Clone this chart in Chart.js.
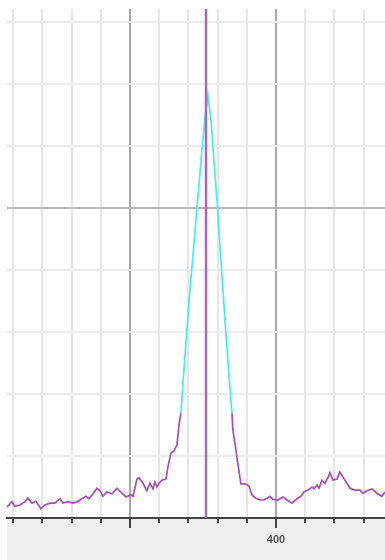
<!DOCTYPE html>
<html>
<head>
<meta charset="utf-8">
<script src="https://cdn.jsdelivr.net/npm/chart.js@4.4.0/dist/chart.umd.min.js"></script>
<style>
  body { margin: 0; background: #fff; }
  #wrap { width: 385px; height: 560px; }
</style>
</head>
<body>
<div id="wrap"><canvas id="myCanvas"></canvas></div>
<script>
// spectrum samples (wavelength, counts)
var wavelengths = [
  215.8, 219.2, 221.2, 224.7, 228.1, 230.1, 232.9, 235.6, 239.0, 241.8,
  245.2, 248.6, 252.1, 254.1, 257.5, 261.0, 263.7, 267.1, 269.9, 271.9,
  274.7, 277.4, 279.5, 281.5, 284.2, 287.7, 291.1, 294.5, 297.3, 300.7,
  302.1, 304.8, 306.2, 308.9, 311.6, 313.7, 315.8, 317.1, 318.5, 319.9,
  321.9, 324.7, 326.0, 328.1, 330.1, 332.2, 333.6, 334.9, 337.0, 339.0,
  341.1, 343.2, 345.2, 347.3, 349.3, 351.4, 353.4, 355.5, 357.5, 359.6,
  361.6, 363.7, 365.8, 367.8, 369.9, 370.5, 372.6, 374.0, 376.0, 378.8,
  381.5, 383.6, 386.3, 389.0, 391.8, 393.8, 395.9, 397.9, 401.4, 404.8,
  407.5, 411.0, 414.4, 417.1, 419.2, 421.9, 424.7, 426.0, 428.1, 429.5,
  431.5, 433.6, 435.6, 437.0, 439.0, 441.8, 443.8, 445.9, 448.6, 450.7,
  454.1, 457.5, 459.6, 462.3, 465.8, 469.2, 472.6, 474.7
];
var counts = [
  18, 26, 19, 21, 26, 32, 24, 27, 15, 21,
  24, 24, 31, 24, 26, 24, 26, 31, 35, 31,
  39, 48, 44, 35, 42, 39, 48, 40, 34, 37,
  35, 63, 65, 56, 44, 56, 47, 58, 50, 56,
  61, 63, 82, 105, 108, 118, 150, 169, 239, 303,
  368, 424, 481, 537, 594, 645, 682, 642, 577, 513,
  440, 368, 295, 231, 169, 142, 110, 86, 55, 55,
  52, 37, 32, 29, 29, 32, 35, 30, 29, 34,
  29, 24, 31, 35, 42, 45, 50, 47, 53, 48,
  61, 56, 65, 73, 61, 63, 74, 66, 56, 48,
  45, 45, 40, 44, 47, 40, 35, 42
];
var markerX = 352.1;
var yMax = 821;
var xMin = 215.8;
var xMax = 474.7;

var purple = '#a64fb8';
var cyan = '#40f0f0';

var points = wavelengths.map(function(w, i) { return { x: w, y: counts[i] }; });

var bgPlugin = {
  id: 'bottomBand',
  beforeDraw: function(chart) {
    var c = chart.ctx, a = chart.chartArea;
    c.save();
    c.fillStyle = '#efefef';
    c.fillRect(a.left, a.bottom, chart.width - a.left, chart.height - a.bottom);
    c.restore();
  },
  afterDraw: function(chart) {
    // longer tick marks on the major lines
    var c = chart.ctx, a = chart.chartArea, xs = chart.scales.x;
    c.save();
    c.strokeStyle = '#444';
    c.lineWidth = 2;
    xs.ticks.forEach(function(t) {
      if (Math.round(t.value) % 100 === 0) {
        var px = Math.round(xs.getPixelForValue(t.value));
        c.beginPath();
        c.moveTo(px, a.bottom);
        c.lineTo(px, a.bottom + 10);
        c.stroke();
      }
    });
    c.restore();
  }
};

var ctx = document.getElementById('myCanvas');

var chart = new Chart(ctx, {
  type: 'line',
  plugins: [bgPlugin],
  data: {
    datasets: [
      {
        data: [{ x: markerX, y: 0 }, { x: markerX, y: yMax }],
        borderColor: '#b262c4',
        borderWidth: 2.5,
        pointRadius: 0,
        fill: false
      }, {
        data: points,
        borderColor: purple,
        borderWidth: 1.7,
        pointRadius: 0,
        lineTension: 0,
        fill: false,
        segment: {
          borderColor: function(s) {
            return (s.p0.parsed.y >= 165 && s.p1.parsed.y >= 165) ? cyan : purple;
          }
        }
      }
    ]
  },
  options: {
    animation: false,
    responsive: true,
    maintainAspectRatio: false,
    layout: { padding: { left: 7, top: 9, right: 0, bottom: 0 } },
    plugins: { legend: { display: false }, tooltip: { enabled: false } },
    scales: {
      x: {
        type: 'linear',
        min: xMin,
        max: xMax,
        afterFit: function(s) { s.height = 42; },
        ticks: {
          stepSize: 20,
          includeBounds: false,
          autoSkip: false,
          maxRotation: 0,
          padding: 10,
          color: '#555',
          font: { family: 'Liberation Sans', size: 11, weight: 'bold' },
          callback: function(v) { return Math.round(v) % 200 === 0 ? String(Math.round(v)) : ''; }
        },
        grid: {
          lineWidth: 2,
          tickLength: 5,
          tickColor: '#444',
          tickWidth: 2,
          color: function(c) { return c.tick && Math.round(c.tick.value) % 100 === 0 ? '#a8a8a8' : '#e6e6e6'; }
        },
        border: { display: true, color: '#444', width: 2 }
      },
      y: {
        min: 0,
        max: yMax,
        afterFit: function(s) { s.width = 0; },
        ticks: { display: false, stepSize: 100, includeBounds: false },
        grid: {
          drawTicks: false,
          lineWidth: 2,
          color: function(c) { return c.tick && c.tick.value === 500 ? '#b8b8b8' : (c.tick && c.tick.value === 0 ? 'rgba(0,0,0,0)' : '#ececec'); }
        },
        border: { display: false }
      }
    }
  }
});
</script>
</body>
</html>
